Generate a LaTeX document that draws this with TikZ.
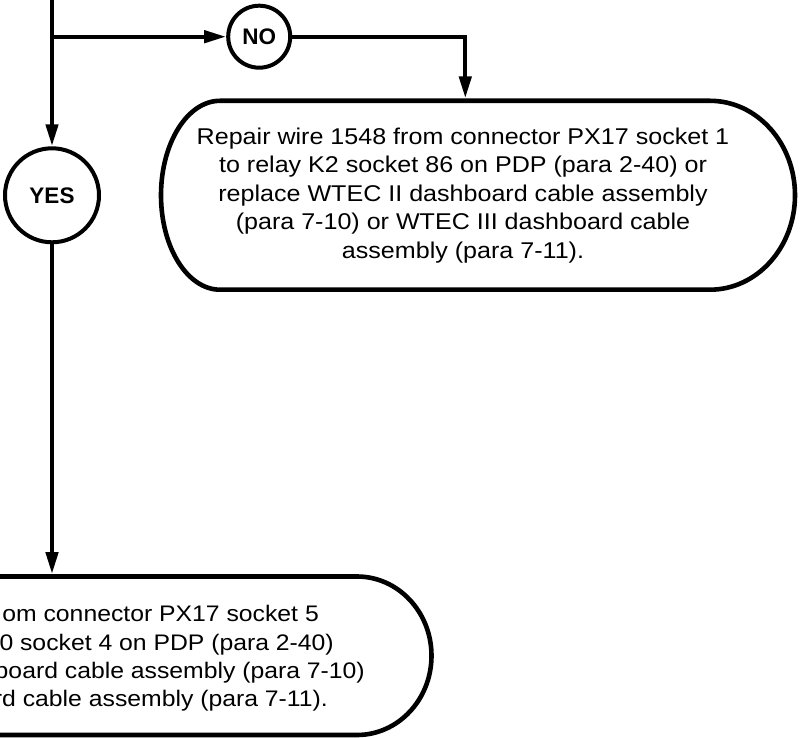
\documentclass[tikz,border=0pt]{standalone}
\usepackage{fontspec}
\setmainfont{Liberation Sans}[FakeStretch=1.1]
\newfontfamily\labelfont{Liberation Sans}
\usetikzlibrary{arrows.meta}
\tikzset{
  conn/.style={line width=4.3pt, -{Triangle[length=22pt,width=12pt]}},
  decision/.style={circle, draw, line width=4pt, inner sep=0pt, font=\labelfont\bfseries\fontsize{22.5}{25}\selectfont},
  boxline/.style={line width=4.6pt, line join=round},
  boxtext/.style={align=center, inner sep=0pt, font=\fontsize{22.8}{28.5}\selectfont},
  frag/.style={anchor=base east, inner sep=0pt, font=\fontsize{22.5}{28.5}\selectfont}
}
\begin{document}
\begin{tikzpicture}[x=1pt,y=1pt]
\useasboundingbox (0,0) rectangle (800,737);
\clip (0,0) rectangle (800,737);
% top box outline
\draw[boxline] (220,636.2) -- (710,636.2)
  arc[start angle=90,end angle=-90,x radius=85,y radius=94.45]
  -- (220,447.3)
  arc[start angle=270,end angle=90,x radius=59,y radius=94.45] -- cycle;
\node[boxtext] (topbox) at (463,541.5) {Repair wire 1548 from connector PX17 socket 1\\
to relay K2 socket 86 on PDP (para 2-40) or\\
replace WTEC II dashboard cable assembly\\
(para 7-10) or WTEC III dashboard cable\\
assembly (para 7-11).};
% bottom box outline
\draw[boxline] (-30,160.5) -- (357,160.5)
  arc[start angle=90,end angle=-90,x radius=74.5,y radius=79.25]
  -- (-30,2);
\node[frag] (b1) at (319,115.3) {om connector PX17 socket 5};
\node[frag] (b2) at (334,87) {0 socket 4 on PDP (para 2-40)};
\node[frag] (b3) at (365,59) {board cable assembly (para 7-10)};
\node[frag] (b4) at (328,30.3) {rd cable assembly (para 7-11).};
% decisions
\node[decision, minimum size=62pt] (no) at (259.2,700.3) {NO};
\node[decision, minimum size=94pt] (yes) at (52,541.7) {YES};
% coordinates
\coordinate (top) at (52,745);
\coordinate (junc) at (52,700.3);
\coordinate (topin) at (465.3,638.6);
\coordinate (botin) at (52,162.8);
% connectors
\draw[conn] (top) -- (yes.north);
\draw[conn] (junc) -- (no.west);
\draw[conn] (no.east) -| (topin);
\draw[conn] (yes.south) -- (botin);
\end{tikzpicture}
\end{document}
